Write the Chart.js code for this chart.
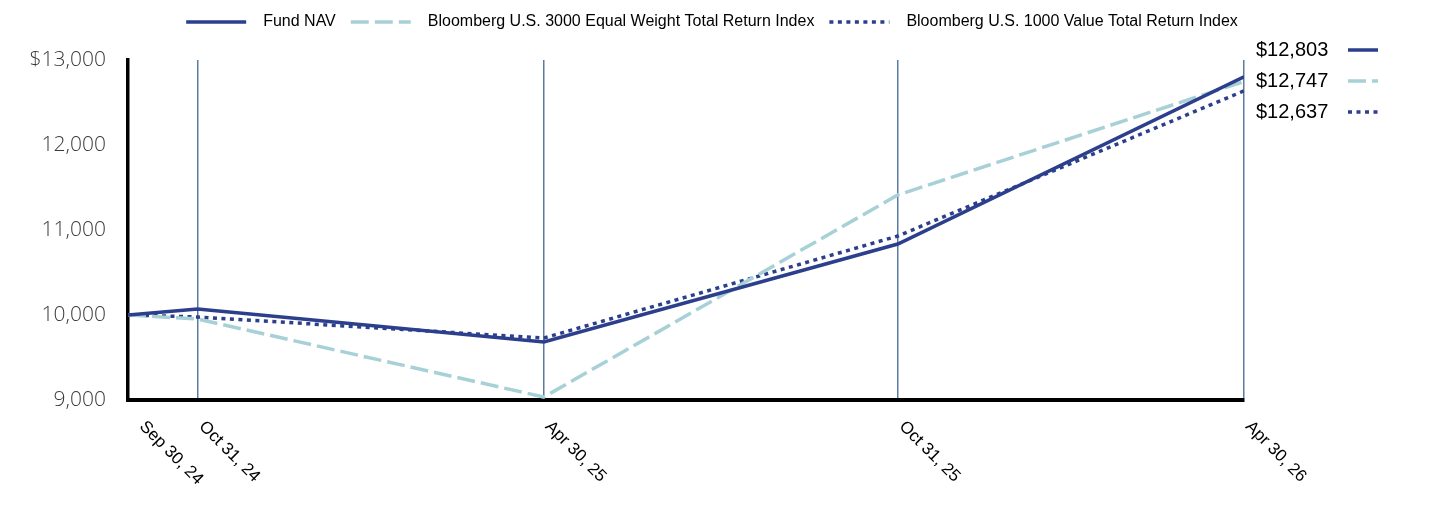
<!DOCTYPE html>
<html>
<head>
<meta charset="utf-8">
<script src="https://cdn.jsdelivr.net/npm/chart.js@4.4.0/dist/chart.umd.min.js"></script>
<style>
  html, body { margin: 0; padding: 0; background: #fff; }
  #wrap { width: 1436px; height: 526px; }
</style>
</head>
<body>
<div id="wrap"><canvas id="growthChart" width="1436" height="526"></canvas></div>
<script>
// dates shown under the axis, and their position along the axis (days from start)
const dateLabels = ['Sep 30, 24', 'Oct 31, 24', 'Apr 30, 25', 'Oct 31, 25', 'Apr 30, 26'];
const dayPos = [0, 36, 215, 398, 577];

const seriesNames = [
    'Fund NAV',
    'Bloomberg U.S. 3000 Equal Weight Total Return Index',
    'Bloomberg U.S. 1000 Value Total Return Index'
];
const fundNav = [10000, 10071, 9682, 10835, 12803];
const equalWeight = [10000, 9953, 9035, 11412, 12747];
const valueIndex = [10000, 9976, 9729, 10929, 12637];

const yTicks = [9000, 10000, 11000, 12000, 13000];

const NAVY = '#2b3f8c';
const TEAL = '#a7d1d7';
const LABEL_FONT = '"Liberation Sans", Arial, sans-serif';

function toPoints(values) {
    return values.map((v, i) => ({ x: dayPos[i], y: v }));
}

function fmt(v) {
    return v.toLocaleString('en-US');
}

function strokeSample(ctx, ds, x1, x2, y) {
    ctx.beginPath();
    ctx.strokeStyle = ds.borderColor;
    ctx.lineWidth = ds.borderWidth;
    ctx.setLineDash(ds.borderDash || []);
    ctx.moveTo(x1, y);
    ctx.lineTo(x2, y);
    ctx.stroke();
}

// legend across the top, drawn by hand so the dash patterns show
const topLegendPlugin = {
    id: 'topLegend',
    afterDraw(chart) {
        const ctx = chart.ctx;
        const sample = 60, gapText = 17, gapItem = 15;
        ctx.save();
        ctx.font = '16px ' + LABEL_FONT;
        ctx.textAlign = 'left';
        ctx.textBaseline = 'middle';
        const items = chart.data.datasets.map(ds => ({ ds, w: ctx.measureText(ds.label).width }));
        let total = 0;
        items.forEach((it, i) => { total += sample + gapText + it.w + (i ? gapItem : 0); });
        let x = 712 - total / 2;
        const y = 22;
        items.forEach(it => {
            strokeSample(ctx, it.ds, x, x + sample, y);
            ctx.fillStyle = '#000';
            ctx.fillText(it.ds.label, x + sample + gapText, y);
            x += sample + gapText + it.w + gapItem;
        });
        ctx.restore();
    }
};

// rotated date labels (text runs down to the right from each tick)
const dateLabelPlugin = {
    id: 'dateLabels',
    afterDraw(chart) {
        const ctx = chart.ctx;
        const xs = chart.scales.x;
        const bottom = chart.chartArea.bottom;
        ctx.save();
        ctx.font = '17px ' + LABEL_FONT;
        ctx.fillStyle = '#000';
        ctx.textAlign = 'left';
        ctx.textBaseline = 'middle';
        dateLabels.forEach((lbl, i) => {
            // keep the first label clear of the y axis line
            const px = Math.max(xs.getPixelForValue(dayPos[i]) + 4, chart.chartArea.left + 14);
            ctx.save();
            ctx.translate(px, bottom + 24);
            ctx.rotate(Math.PI / 4);
            ctx.fillText(lbl, 0, 0);
            ctx.restore();
        });
        ctx.restore();
    }
};

// ending values listed at the right with a line sample
const endValuePlugin = {
    id: 'endValues',
    afterDraw(chart) {
        const ctx = chart.ctx;
        const left = chart.chartArea.right + 12;
        ctx.save();
        ctx.font = '20px ' + LABEL_FONT;
        ctx.textAlign = 'left';
        ctx.textBaseline = 'middle';
        chart.data.datasets.forEach((ds, i) => {
            const y = 50 + i * 31;
            const last = ds.data[ds.data.length - 1].y;
            ctx.fillStyle = '#000';
            ctx.fillText('$' + fmt(last), left, y);
            strokeSample(ctx, ds, chart.chartArea.right + 104, chart.chartArea.right + 134, y);
        });
        ctx.restore();
    }
};

const ctx = document.getElementById('growthChart').getContext('2d');
new Chart(ctx, {
    type: 'line',
    data: {
        datasets: [
            {
                label: seriesNames[0],
                data: toPoints(fundNav),
                borderColor: NAVY,
                backgroundColor: NAVY,
                borderWidth: 3.5,
                pointRadius: 0,
                tension: 0
            },
            {
                label: seriesNames[1],
                data: toPoints(equalWeight),
                borderColor: TEAL,
                backgroundColor: TEAL,
                borderWidth: 3.5,
                borderDash: [18, 6],
                pointRadius: 0,
                tension: 0
            },
            {
                label: seriesNames[2],
                data: toPoints(valueIndex),
                borderColor: NAVY,
                backgroundColor: NAVY,
                borderWidth: 3.5,
                borderDash: [4, 4.5],
                pointRadius: 0,
                tension: 0
            }
        ]
    },
    options: {
        responsive: false,
        animation: false,
        layout: {
            padding: { left: 0, right: 192, top: 60, bottom: 126 }
        },
        plugins: {
            legend: { display: false },
            tooltip: { enabled: false }
        },
        scales: {
            x: {
                type: 'linear',
                min: dayPos[0],
                max: dayPos[dayPos.length - 1],
                afterBuildTicks(scale) {
                    scale.ticks = dayPos.map(v => ({ value: v }));
                },
                afterFit(scale) {
                    scale.height = 0;
                },
                ticks: { display: false },
                grid: {
                    display: true,
                    drawTicks: false,
                    color: c => (c.index === 0 ? 'rgba(0,0,0,0)' : '#5b7ba3'),
                    lineWidth: 1.5
                },
                border: { display: true, color: '#000', width: 4 }
            },
            y: {
                min: yTicks[0],
                max: yTicks[yTicks.length - 1],
                afterBuildTicks(scale) {
                    scale.ticks = yTicks.map(v => ({ value: v }));
                },
                afterFit(scale) {
                    scale.width = 128;
                },
                ticks: {
                    padding: 22,
                    color: '#3a3a3a',
                    font: { family: '"Open Sans", sans-serif', size: 21, weight: '300' },
                    callback: v => (v === yTicks[yTicks.length - 1] ? '$' + fmt(v) : fmt(v))
                },
                grid: { display: false, drawTicks: false },
                border: { display: true, color: '#000', width: 3.5 }
            }
        }
    },
    plugins: [topLegendPlugin, dateLabelPlugin, endValuePlugin]
});
</script>
</body>
</html>
